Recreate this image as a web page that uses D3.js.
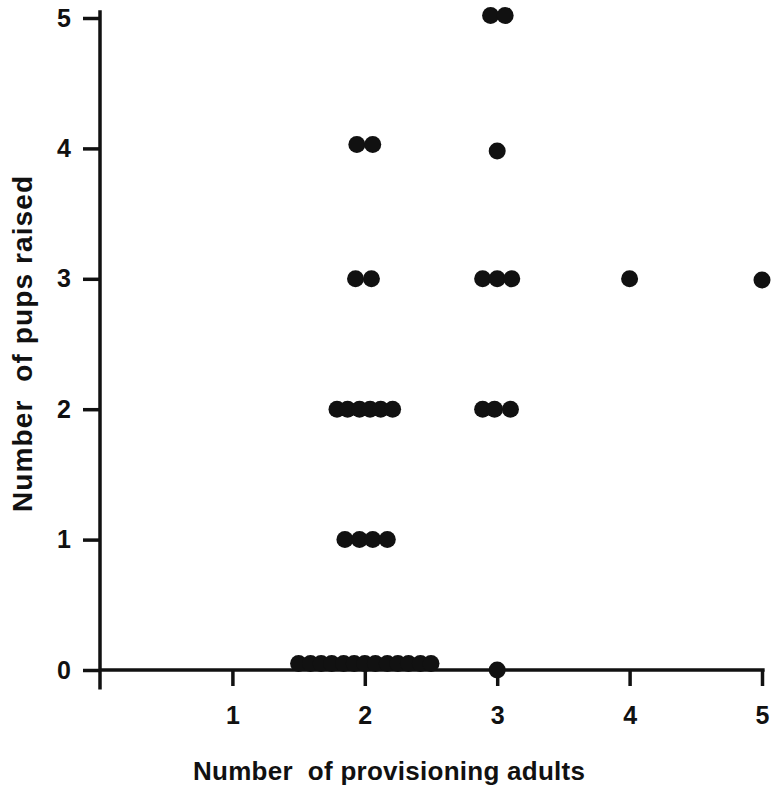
<!DOCTYPE html>
<html lang="en">
<head>
    <meta charset="UTF-8">
    <title>Pups raised vs provisioning adults</title>
    <script src="https://cdn.jsdelivr.net/npm/d3@7/dist/d3.min.js"></script>
    <style>
        body { margin: 0; background: #fff; }
        text { font-family: "Liberation Sans", Arial, sans-serif; font-weight: bold; fill: #111; }
    </style>
</head>
<body>
    <div class="chart"></div>
</body>
<script>
    // jittered points (x = provisioning adults, y = pups raised)
    const adults = [
        1.50, 1.59, 1.67, 1.75, 1.84, 1.92, 2.00, 2.08, 2.17, 2.25, 2.33, 2.42, 2.50,
        3.00,
        1.85, 1.96, 2.06, 2.17,
        1.79, 1.87, 1.96, 2.04, 2.12, 2.21,
        1.93, 2.05,
        1.94, 2.06,
        2.95, 3.06,
        3.00,
        2.89, 3.00, 3.11,
        2.89, 2.98, 3.10,
        4.00,
        5.00
    ]
    const pups = [
        0.05, 0.05, 0.05, 0.05, 0.05, 0.05, 0.05, 0.05, 0.05, 0.05, 0.05, 0.05, 0.05,
        0.00,
        1.00, 1.00, 1.00, 1.00,
        2.00, 2.00, 2.00, 2.00, 2.00, 2.00,
        3.00, 3.00,
        4.03, 4.03,
        5.02, 5.02,
        3.98,
        3.00, 3.00, 3.00,
        2.00, 2.00, 2.00,
        3.00,
        2.99
    ]
    const xTicks = [1, 2, 3, 4, 5]
    const yTicks = [0, 1, 2, 3, 4, 5]

    const width = 776
    const height = 792
    const margin = { top: 18, right: 14, bottom: 122, left: 100 }

    const xScale = d3.scaleLinear().domain([0, 5]).range([margin.left, width - margin.right])
    const yScale = d3.scaleLinear().domain([0, 5]).range([height - margin.bottom, margin.top])

    const svg = d3.select('.chart')
        .append('svg')
        .attr('width', width)
        .attr('height', height)

    // axis lines (drawn a bit past the data range like the original)
    svg.append('line')
        .attr('x1', xScale(0)).attr('x2', xScale(0))
        .attr('y1', yScale(-0.15)).attr('y2', yScale(5.06))
        .attr('stroke', '#111').attr('stroke-width', 3.5)
    svg.append('line')
        .attr('x1', xScale(0)).attr('x2', xScale(5.02))
        .attr('y1', yScale(0)).attr('y2', yScale(0))
        .attr('stroke', '#111').attr('stroke-width', 3.5)

    const xAxis = d3.axisBottom(xScale).tickValues(xTicks).tickFormat(d3.format('d'))
        .tickSize(16).tickPadding(20).tickSizeOuter(0)
    const gX = svg.append('g')
        .attr('transform', `translate(0, ${yScale(0)})`)
        .call(xAxis)
    gX.select('.domain').remove()
    gX.selectAll('.tick line').attr('stroke', '#111').attr('stroke-width', 3.5)
    gX.selectAll('.tick text').attr('font-size', '25px').attr('fill', '#111')

    const yAxis = d3.axisLeft(yScale).tickValues(yTicks).tickFormat(d3.format('d'))
        .tickSize(17).tickPadding(12).tickSizeOuter(0)
    const gY = svg.append('g')
        .attr('transform', `translate(${xScale(0)}, 0)`)
        .call(yAxis)
    gY.select('.domain').remove()
    gY.selectAll('.tick line').attr('stroke', '#111').attr('stroke-width', 3.5)
    gY.selectAll('.tick text').attr('font-size', '25px').attr('fill', '#111')

    svg.selectAll('.dot')
        .data(adults.map((a, i) => [a, pups[i]]))
        .enter()
        .append('circle')
        .attr('class', 'dot')
        .attr('cx', d => xScale(d[0]))
        .attr('cy', d => yScale(d[1]))
        .attr('r', 8.5)
        .attr('fill', '#111')

    svg.append('text')
        .attr('x', 389)
        .attr('y', 780)
        .attr('text-anchor', 'middle')
        .attr('font-size', '26px')
        .attr('textLength', 392)
        .attr('xml:space', 'preserve')
        .text('Number  of provisioning adults')

    svg.append('text')
        .attr('transform', `translate(32, 344) rotate(-90)`)
        .attr('text-anchor', 'middle')
        .attr('font-size', '28px')
        .attr('textLength', 336)
        .attr('xml:space', 'preserve')
        .text('Number  of pups raised')
</script>
</html>
